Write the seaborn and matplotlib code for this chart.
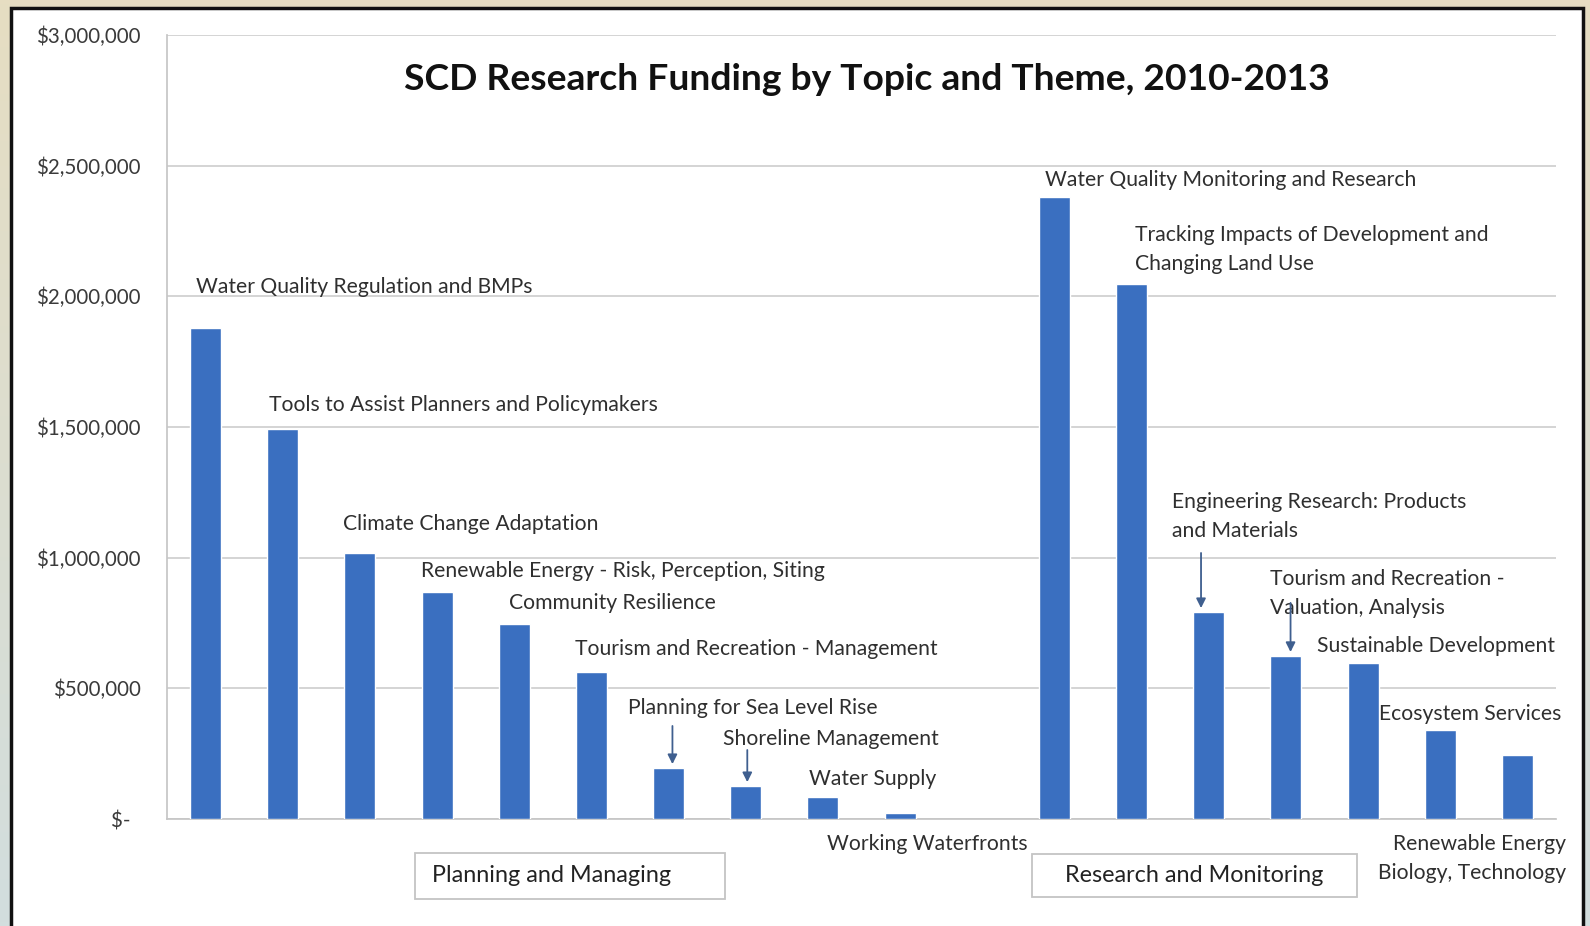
import numpy as np
import pandas as pd
import matplotlib
matplotlib.use("Agg")
import matplotlib.pyplot as plt
import seaborn as sns
from matplotlib.patches import Rectangle

# --- data -------------------------------------------------------------
planning_topics = [
    "Water Quality Regulation and BMPs",
    "Tools to Assist Planners and Policymakers",
    "Climate Change Adaptation",
    "Renewable Energy - Risk, Perception, Siting",
    "Community Resilience",
    "Tourism and Recreation - Management",
    "Planning for Sea Level Rise",
    "Shoreline Management",
    "Water Supply",
    "Working Waterfronts",
]
planning_funding = [1880000, 1492000, 1018000, 867000, 746000, 564000,
                    195000, 126000, 84000, 23000]

research_topics = [
    "Water Quality Monitoring and Research",
    "Tracking Impacts of Development and\nChanging Land Use",
    "Engineering Research: Products\nand Materials",
    "Tourism and Recreation -\nValuation, Analysis",
    "Sustainable Development",
    "Ecosystem Services",
    "Renewable Energy\nBiology, Technology",
]
research_funding = [2380000, 2047000, 792000, 624000, 597000, 341000, 245000]

themes = ["Planning and Managing", "Research and Monitoring"]
title = "SCD Research Funding by Topic and Theme, 2010-2013"
y_ticks = [0, 500000, 1000000, 1500000, 2000000, 2500000, 3000000]
y_tick_labels = ["$-  ", "$500,000", "$1,000,000", "$1,500,000",
                 "$2,000,000", "$2,500,000", "$3,000,000"]

GAP = " "  # empty slot between the two themes

df = pd.DataFrame({
    "topic": planning_topics + research_topics,
    "funding": planning_funding + research_funding,
    "theme": [themes[0]] * len(planning_topics) + [themes[1]] * len(research_topics),
})
order = planning_topics + [GAP] + research_topics

# --- label placement (data coords: slot index, dollars) ---------------
label_layout = {
    planning_topics[0]: (-0.13, 2036000, "left"),
    planning_topics[1]: (0.82, 1584000, "left"),
    planning_topics[2]: (1.78, 1129000, "left"),
    planning_topics[3]: (2.79, 949000, "left"),
    planning_topics[4]: (3.93, 827000, "left"),
    planning_topics[5]: (4.79, 651000, "left"),
    planning_topics[6]: (5.47, 425000, "left"),
    planning_topics[7]: (6.71, 306000, "left"),
    planning_topics[8]: (7.82, 153000, "left"),
    planning_topics[9]: (8.05, -95000, "left"),
    research_topics[0]: (10.88, 2445000, "left"),
    research_topics[1]: (12.04, 2179000, "left"),
    research_topics[2]: (12.53, 1158000, "left"),
    research_topics[3]: (13.79, 863000, "left"),
    research_topics[4]: (14.40, 662000, "left"),
    research_topics[5]: (15.21, 402000, "left"),
    research_topics[6]: (17.63, -152000, "right"),
}
# arrows: topic -> (x, start y)
arrow_layout = {
    planning_topics[6]: (6.05, 356000),
    planning_topics[7]: (7.02, 264000),
    research_topics[2]: (12.90, 1018000),
    research_topics[3]: (14.06, 827000),
}

# --- figure -----------------------------------------------------------
sns.set_theme(style="white")
plt.rcParams["font.family"] = ["Lato", "DejaVu Sans"]

W, H = 1590, 926
fig = plt.figure(figsize=(W / 100, H / 100), dpi=100)

# slide background: beige fading to a pale blue-grey
bg = fig.add_axes([0, 0, 1, 1], zorder=-10)
top_c = np.array([230, 221, 194]) / 255
bot_c = np.array([210, 222, 222]) / 255
t = np.linspace(0, 1, 256)[:, None]
grad = (top_c * (1 - t) + bot_c * t)[:, None, :]
bg.imshow(grad, aspect="auto", extent=[0, 1, 0, 1])
bg.set_axis_off()

# white chart panel with dark frame
panel = Rectangle((11 / W, -0.02), (1583 - 11) / W, (926 - 8) / H + 0.02,
                  transform=fig.transFigure, facecolor="white",
                  edgecolor="#111111", linewidth=2.5, zorder=-5)
fig.patches.append(panel)

ax = fig.add_axes([167 / W, (926 - 819) / H, (1556 - 167) / W, (819 - 35) / H])
ax.set_facecolor("none")

sns.barplot(data=df, x="topic", y="funding", order=order, color="#3a6fc0",
            width=0.4, saturation=1, ax=ax, zorder=3)

ax.set_xlim(-0.5, len(order) - 0.5)
ax.set_ylim(0, 3000000)
ax.set_yticks(y_ticks)
ax.set_yticklabels(y_tick_labels)
ax.set_xticks([])
ax.set_xlabel("")
ax.set_ylabel("")
ax.grid(axis="y", color="#cdcdcd", linewidth=1.2, zorder=0)
ax.set_axisbelow(True)
for side in ["top", "right"]:
    ax.spines[side].set_visible(False)
ax.spines["left"].set_color("#c6c6c6")
ax.spines["bottom"].set_color("#c6c6c6")
ax.tick_params(axis="y", length=7, color="#c9c9c9", pad=12,
               labelsize=14.8, labelcolor="#3a3a3a")

# topic labels
for topic, (x, y, ha) in label_layout.items():
    ax.text(x, y, topic, ha=ha, va="center", fontsize=15.2, color="#2f2f2f",
            linespacing=1.55, clip_on=False, zorder=5)

values = dict(zip(df["topic"], df["funding"]))
for topic, (x, y0) in arrow_layout.items():
    ax.annotate("", xy=(x, values[topic] + 15000), xytext=(x, y0),
                arrowprops=dict(arrowstyle="-|>", color="#3f5f8f", lw=1.3,
                                mutation_scale=14, shrinkA=0, shrinkB=0),
                zorder=6)

# title
fig.text(867 / W, 1 - 79 / H, title, ha="center", va="center",
         fontsize=26.8, fontweight="bold", color="#111111")

# theme boxes under the axis
boxes = [(415, 853, 725, 899, 432), (1032, 854, 1357, 897, 1065)]
for theme, (x0, y0, x1, y1, tx) in zip(themes, boxes):
    fig.patches.append(Rectangle((x0 / W, 1 - y1 / H), (x1 - x0) / W, (y1 - y0) / H,
                                 transform=fig.transFigure, facecolor="white",
                                 edgecolor="#c4c4c4", linewidth=1.3, zorder=2))
    fig.text(tx / W, 1 - ((y0 + y1) / 2) / H, theme, ha="left", va="center",
             fontsize=16.8, color="#222222")

fig.savefig("out.png", dpi=100)
